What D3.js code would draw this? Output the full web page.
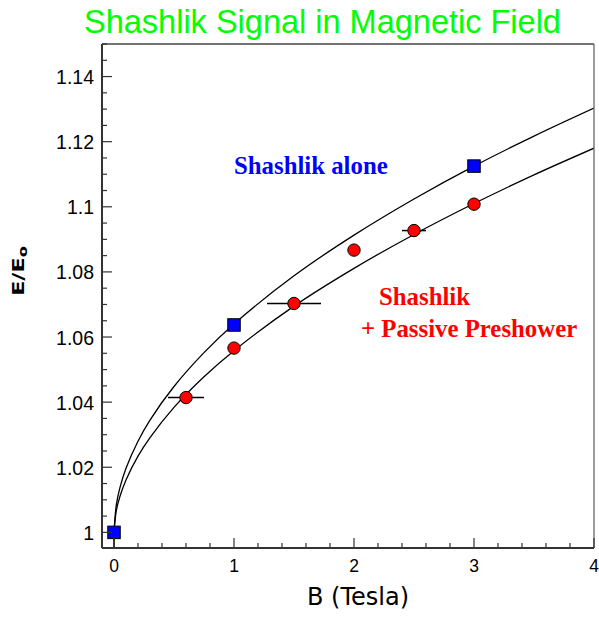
<!DOCTYPE html>
<html>
<head>
<meta charset="utf-8">
<script src="https://cdn.jsdelivr.net/npm/d3@7"></script>
<style>
  html, body { margin: 0; padding: 0; background: #fff; }
  svg { display: block; }
</style>
</head>
<body>
<svg id="chart" width="599" height="621"></svg>
<script>
// Shashlik alone (blue squares)
const aloneB = [0, 1, 3];
const aloneR = [1.0, 1.0637, 1.1125];

// Shashlik + passive preshower (red circles) with horizontal spreads in B
const preB = [0.6, 1, 1.5, 2, 2.5, 3];
const preR = [1.0414, 1.0566, 1.0703, 1.0867, 1.0927, 1.1008];
const preBErr = [0.15, 0, 0.225, 0, 0.1, 0];

// Fitted response curves
const fitB = [0, 0.02, 0.05, 0.1, 0.2, 0.3, 0.5, 0.75, 1, 1.5, 2, 2.5, 3, 3.5, 4];
const fitAlone = [1.0, 1.0086, 1.0138, 1.0197, 1.0280, 1.0345, 1.0448, 1.0552, 1.0640, 1.0788, 1.0913, 1.1024, 1.1125, 1.1217, 1.1303];
const fitPre = [1.0, 1.0068, 1.0111, 1.0161, 1.0234, 1.0291, 1.0384, 1.0478, 1.0558, 1.0695, 1.0811, 1.0915, 1.1010, 1.1098, 1.1180];

const xTicks = [0, 1, 2, 3, 4];
const yTicks = [1, 1.02, 1.04, 1.06, 1.08, 1.1, 1.12, 1.14];
const yTickLabels = ["1", "1.02", "1.04", "1.06", "1.08", "1.1", "1.12", "1.14"];

const svg = d3.select("#chart");
const pLeft = 102, pRight = 594, pTop = 44, pBottom = 548;

const x = d3.scaleLinear().domain([-0.1, 4]).range([pLeft, pRight]);
const y = d3.scaleLinear().domain([0.9952, 1.1500]).range([pBottom, pTop]);

// Title
svg.append("text")
  .attr("x", 322.5).attr("y", 33)
  .attr("text-anchor", "middle")
  .attr("font-family", "Liberation Sans, Arial, sans-serif")
  .attr("font-size", 32.5)
  .attr("fill", "#00ff00")
  .text("Shashlik Signal in Magnetic Field");

// Clip region for the plot
svg.append("clipPath").attr("id", "plotclip")
  .append("rect").attr("x", pLeft).attr("y", pTop).attr("width", pRight - pLeft).attr("height", pBottom - pTop);

const plot = svg.append("g").attr("clip-path", "url(#plotclip)");

// Fit curves
const line = d3.line().x(d => x(d[0])).y(d => y(d[1])).curve(d3.curveCatmullRom.alpha(0.5));
[fitAlone, fitPre].forEach(vals => {
  plot.append("path")
    .datum(fitB.map((b, i) => [b, vals[i]]))
    .attr("d", line)
    .attr("fill", "none")
    .attr("stroke", "#000")
    .attr("stroke-width", 1.3);
});

// Horizontal spreads on preshower points
plot.selectAll("line.herr")
  .data(preB.map((b, i) => ({ b, r: preR[i], e: preBErr[i] })).filter(d => d.e > 0))
  .join("line")
  .attr("class", "herr")
  .attr("x1", d => x(d.b - d.e)).attr("x2", d => x(d.b + d.e))
  .attr("y1", d => y(d.r)).attr("y2", d => y(d.r))
  .attr("stroke", "#000").attr("stroke-width", 1.5);

// Vertical bar on the reference point
plot.append("line")
  .attr("x1", x(aloneB[0])).attr("x2", x(aloneB[0]))
  .attr("y1", y(aloneR[0] - 0.005)).attr("y2", y(aloneR[0]))
  .attr("stroke", "#000").attr("stroke-width", 1.5);

// Red circles
svg.selectAll("circle.pre")
  .data(preB.map((b, i) => [b, preR[i]]))
  .join("circle")
  .attr("class", "pre")
  .attr("cx", d => x(d[0])).attr("cy", d => y(d[1]))
  .attr("r", 6.2)
  .attr("fill", "#ff0000").attr("stroke", "#000").attr("stroke-width", 1);

// Blue squares
const sq = 12.5;
svg.selectAll("rect.alone")
  .data(aloneB.map((b, i) => [b, aloneR[i]]))
  .join("rect")
  .attr("class", "alone")
  .attr("x", d => x(d[0]) - sq / 2).attr("y", d => y(d[1]) - sq / 2)
  .attr("width", sq).attr("height", sq)
  .attr("fill", "#0000ff").attr("stroke", "#000").attr("stroke-width", 1);

// Frame
svg.append("line").attr("x1", pLeft).attr("x2", pRight).attr("y1", pTop).attr("y2", pTop)
  .attr("stroke", "#444").attr("stroke-width", 1.5);
svg.append("line").attr("x1", pRight).attr("x2", pRight).attr("y1", pTop).attr("y2", pBottom)
  .attr("stroke", "#666").attr("stroke-width", 1.3);

// Bottom axis with inward ticks
const xMinor = d3.range(0, 4.001, 0.2);
svg.selectAll("line.xt")
  .data(xMinor)
  .join("line")
  .attr("class", "xt")
  .attr("x1", d => x(d)).attr("x2", d => x(d))
  .attr("y1", pBottom)
  .attr("y2", d => pBottom - (Math.abs(d - Math.round(d)) < 1e-6 ? 10 : 5))
  .attr("stroke", "#333").attr("stroke-width", 1.2);
svg.append("line").attr("x1", pLeft).attr("x2", pRight).attr("y1", pBottom).attr("y2", pBottom)
  .attr("stroke", "#333").attr("stroke-width", 2);
svg.selectAll("text.xl")
  .data(xTicks)
  .join("text")
  .attr("class", "xl")
  .attr("x", d => x(d)).attr("y", 572)
  .attr("text-anchor", "middle")
  .attr("font-family", "Liberation Sans, Arial, sans-serif")
  .attr("font-size", 17.5)
  .attr("fill", "#000")
  .text(d => d);

// Left axis with inward ticks
const yMinor = d3.range(1.0, 1.1501, 0.005);
svg.selectAll("line.yt")
  .data(yMinor)
  .join("line")
  .attr("class", "yt")
  .attr("x1", pLeft)
  .attr("x2", d => pLeft + (Math.abs(d * 50 - Math.round(d * 50)) < 1e-6 ? 10 : 5))
  .attr("y1", d => y(d)).attr("y2", d => y(d))
  .attr("stroke", "#333").attr("stroke-width", 1.2);
svg.append("line").attr("x1", pLeft).attr("x2", pLeft).attr("y1", pTop).attr("y2", pBottom)
  .attr("stroke", "#333").attr("stroke-width", 2);
svg.selectAll("text.yl")
  .data(yTicks)
  .join("text")
  .attr("class", "yl")
  .attr("x", 94).attr("y", d => y(d) + 7.5)
  .attr("text-anchor", "end")
  .attr("font-family", "Liberation Sans, Arial, sans-serif")
  .attr("font-size", 19.5)
  .attr("fill", "#000")
  .text((d, i) => yTickLabels[i]);

// Axis titles
svg.append("text")
  .attr("x", 358).attr("y", 605)
  .attr("text-anchor", "middle")
  .attr("font-family", "DejaVu Sans, sans-serif")
  .attr("font-size", 24)
  .attr("fill", "#000")
  .text("B (Tesla)");

const yt = svg.append("text")
  .attr("transform", "translate(24,271) rotate(-90) scale(1.35,1)")
  .attr("text-anchor", "middle")
  .attr("font-family", "DejaVu Sans, sans-serif")
  .attr("font-weight", "bold")
  .attr("font-size", 16.5)
  .attr("fill", "#000");
yt.append("tspan").text("E/E");
yt.append("tspan").attr("font-size", 12).attr("dy", 3).text("o");

// Series annotations
const noteFont = "Liberation Serif, Times New Roman, serif";
svg.append("text")
  .attr("x", 234).attr("y", 174)
  .attr("font-family", noteFont)
  .attr("font-weight", "bold")
  .attr("font-size", 24.8)
  .attr("fill", "#0000ff")
  .text("Shashlik alone");
svg.append("text")
  .attr("x", 379).attr("y", 305)
  .attr("font-family", noteFont)
  .attr("font-weight", "bold")
  .attr("font-size", 24.8)
  .attr("fill", "#ff0000")
  .text("Shashlik");
svg.append("text")
  .attr("x", 361).attr("y", 337)
  .attr("font-family", noteFont)
  .attr("font-weight", "bold")
  .attr("font-size", 24.8)
  .attr("fill", "#ff0000")
  .text("+ Passive Preshower");
</script>
</body>
</html>
